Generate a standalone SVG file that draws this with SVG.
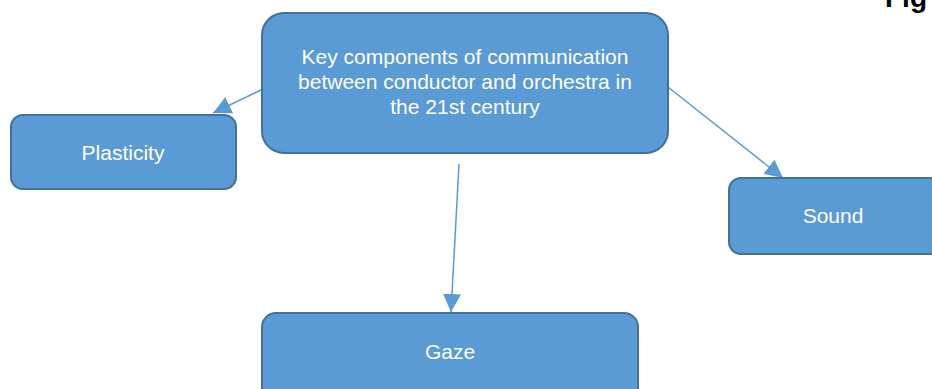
<svg xmlns="http://www.w3.org/2000/svg" width="932" height="389" viewBox="0 0 932 389">
<style>
.box{fill:#5B9BD5;stroke:#41719C;stroke-width:2}
.lbl{font-family:"Liberation Sans",Arial,sans-serif;font-size:21px;fill:#FFFFFF;text-anchor:middle}
.conn{stroke:#5B9BD5;stroke-width:1.5;fill:none}
.fig{font-family:"Liberation Sans",Arial,sans-serif;font-size:28px;font-weight:bold;fill:#000000}
</style>
<defs>
<marker id="arr" markerUnits="userSpaceOnUse" markerWidth="19" markerHeight="18" refX="18" refY="9" orient="auto">
<path d="M0,0 L18,9 L0,18 z" fill="#5B9BD5"/>
</marker>
</defs>
<rect width="932" height="389" fill="#FFFFFF"/>
<text class="fig" x="885" y="7">Fig</text>
<g id="connectors">
<line class="conn" x1="263" y1="89" x2="213" y2="113" marker-end="url(#arr)"/>
<line class="conn" x1="668" y1="87" x2="783" y2="178" marker-end="url(#arr)"/>
<line class="conn" x1="459" y1="164" x2="451" y2="312" marker-end="url(#arr)"/>
</g>
<g id="main">
<rect class="box" x="262" y="13" width="406" height="140" rx="22"/>
<text class="lbl" x="465" y="64">Key components of communication</text>
<text class="lbl" x="465" y="89">between conductor and orchestra in</text>
<text class="lbl" x="465" y="114">the 21st century</text>
</g>
<g id="plasticity">
<rect class="box" x="11" y="115" width="225" height="74" rx="12"/>
<text class="lbl" x="123" y="160">Plasticity</text>
</g>
<g id="sound">
<rect class="box" x="729" y="178" width="212" height="76" rx="12"/>
<text class="lbl" x="833" y="223">Sound</text>
</g>
<g id="gaze">
<rect class="box" x="262" y="313" width="376" height="90" rx="14"/>
<text class="lbl" x="450" y="359">Gaze</text>
</g>
</svg>
